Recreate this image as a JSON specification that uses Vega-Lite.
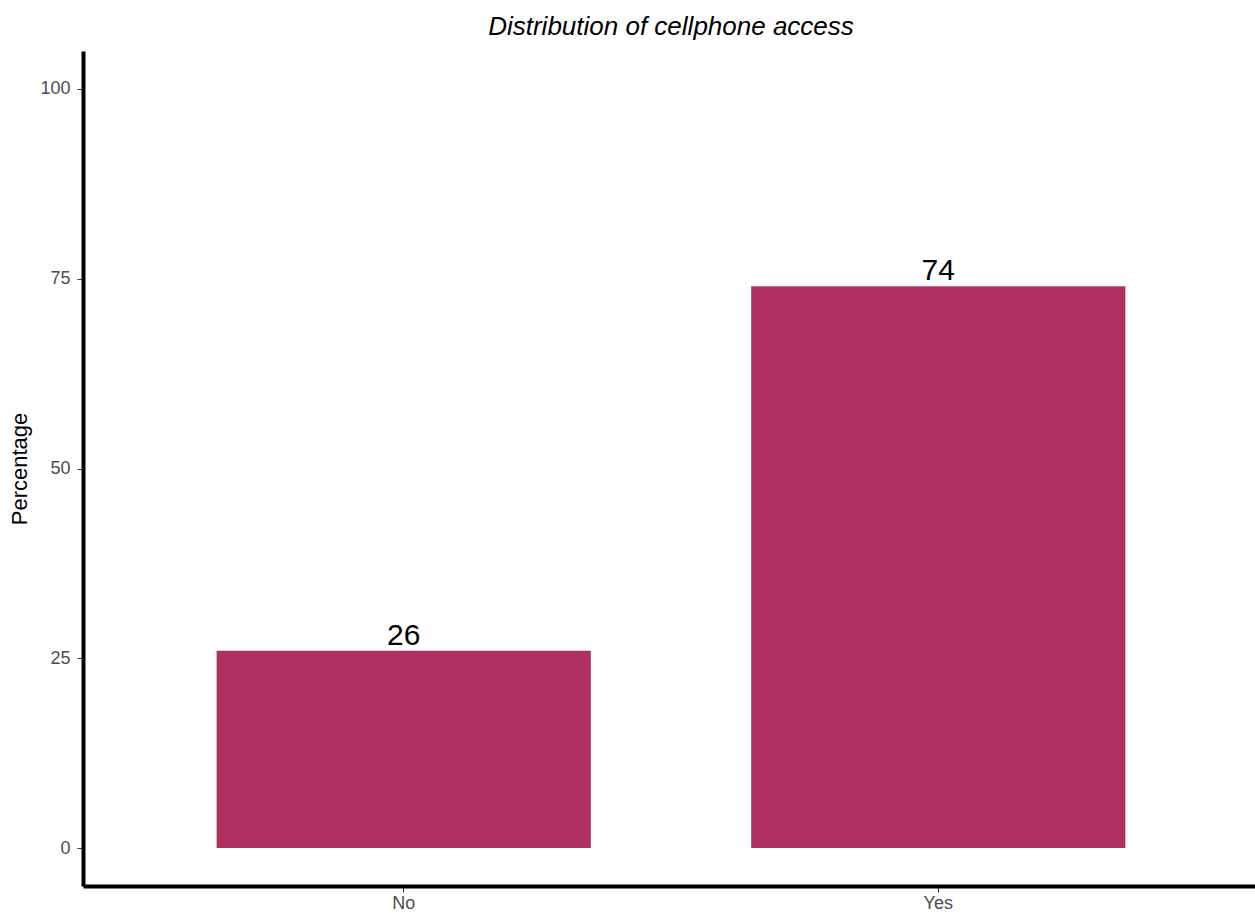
{
  "$schema": "https://vega.github.io/schema/vega-lite/v6.json",
  "autosize": "none",
  "width": 1176,
  "height": 835,
  "padding": {"left": 83, "top": 51, "right": 0, "bottom": 30},
  "background": "white",
  "config": {
    "view": {"stroke": null},
    "font": "Liberation Sans",
    "axis": {"grid": false}
  },
  "title": {
    "text": "Distribution of cellphone access",
    "fontStyle": "italic",
    "fontWeight": "normal",
    "fontSize": 26,
    "font": "Liberation Sans",
    "color": "black",
    "anchor": "middle",
    "offset": 11
  },
  "data": {
    "values": [
      {"access": "No", "pct": 26},
      {"access": "Yes", "pct": 74}
    ]
  },
  "encoding": {
    "x": {
      "field": "access",
      "type": "nominal",
      "scale": {"paddingInner": 0.3, "paddingOuter": 0.25},
      "axis": {
        "title": null,
        "labelAngle": 0,
        "labelFontSize": 18,
        "labelColor": "#4d4d4d",
        "labelPadding": 2,
        "domainColor": "black",
        "domainWidth": 4,
        "tickColor": "#333333",
        "tickWidth": 1,
        "tickSize": 6,
        "offset": 0
      }
    },
    "y": {
      "field": "pct",
      "type": "quantitative",
      "scale": {"domain": [-5, 105], "nice": false, "zero": false},
      "axis": {
        "title": "Percentage",
        "titleFontSize": 22,
        "titleFontWeight": "normal",
        "titleColor": "black",
        "titlePadding": 8,
        "values": [0, 25, 50, 75, 100],
        "labelFontSize": 18,
        "labelColor": "#4d4d4d",
        "labelPadding": 7,
        "domainColor": "black",
        "domainWidth": 4,
        "tickColor": "#333333",
        "tickWidth": 1,
        "tickSize": 6
      }
    }
  },
  "layer": [
    {
      "mark": {"type": "bar", "color": "#B03060"},
      "encoding": {
        "y": {"field": "pct", "type": "quantitative"},
        "y2": {"datum": 0}
      }
    },
    {
      "mark": {"type": "text", "baseline": "bottom", "dy": 0, "fontSize": 30, "color": "black", "font": "Liberation Sans"},
      "encoding": {
        "text": {"field": "pct", "type": "quantitative"}
      }
    }
  ]
}
